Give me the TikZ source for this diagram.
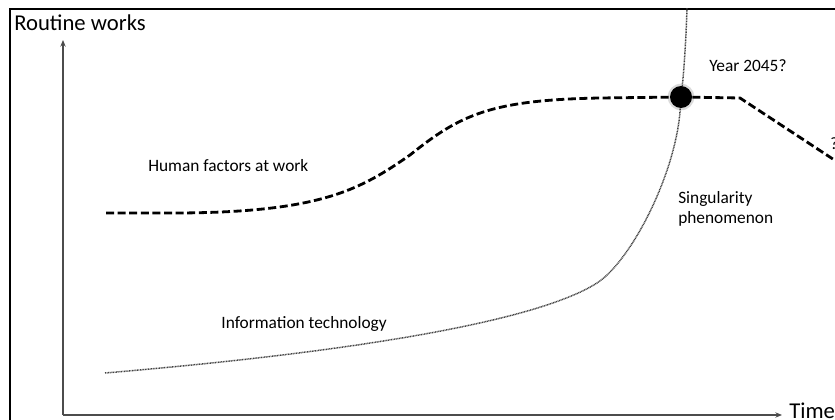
\documentclass[tikz,border=0pt]{standalone}
\usepackage{fontspec}
\setmainfont{Carlito}
\usetikzlibrary{arrows.meta}
\tikzset{
  lbl/.style={font=\fontsize{13}{15}\selectfont, inner sep=0pt, align=left},
  axlbl/.style={font=\fontsize{17}{20}\selectfont, inner sep=0pt},
  axisline/.style={line width=1.2pt, draw=black!70, -{Stealth[length=5pt,width=4pt]}},
  humanline/.style={line width=2.1pt, dash pattern=on 6pt off 2.7pt},
  techline/.style={line width=1.1pt, draw=black!75, dash pattern=on 0.7pt off 0.5pt},
}

\begin{document}
\begin{tikzpicture}[x=0.75pt,y=-0.75pt]
\useasboundingbox (0,0) rectangle (835,420);
\draw[line width=2pt] (10,440) -- (10,9) -- (850,9);
\coordinate (orig) at (63,415);
\coordinate (ytop) at (63,40);
\coordinate (xend) at (782,415);
\draw[axisline] (orig) -- (ytop);
\draw[axisline] (orig) -- (xend);
\node[axlbl, anchor=base west] (yl) at (14,31) {Routine works};
\node[axlbl, anchor=base west] (xl) at (789,418) {Time};

\node[circle, fill=black!20, minimum size=20pt, inner sep=0pt, opacity=0.7] (glow) at (681,97) {};
\node[circle, fill=black, minimum size=16.5pt, inner sep=0pt] (sing) at (681,97) {};

\coordinate (h0) at (106,213);
\coordinate (h1) at (740,98);
\coordinate (h2) at (845,167);
\draw[humanline] (h0) -- (180,213) .. controls (320,212) and (360,190) .. (410,155)
  .. controls (460,115) and (490,100) .. (600,98) -- (sing);
\draw[humanline] (sing) -- (h1) -- (h2);

\coordinate (t0) at (105,373);
\coordinate (t1) at (687,8);
\draw[techline] (t0) .. controls (400,348) and (547,315) .. (597,283)
  .. controls (630,262) and (676,175) .. (sing);
\draw[techline] (sing) .. controls (684,70) and (686,40) .. (t1);

\node[lbl, anchor=base west] (hf) at (148,172) {Human factors at work};
\node[lbl, anchor=base east] (it) at (387,329) {Information technology};
\node[lbl, anchor=west] (sp) at (678,209) {Singularity\\phenomenon};
\node[lbl, anchor=base west] (yr) at (709,72) {Year 2045?};
\node[lbl, anchor=base west] (q) at (830,150) {?};
\end{tikzpicture}
\end{document}
